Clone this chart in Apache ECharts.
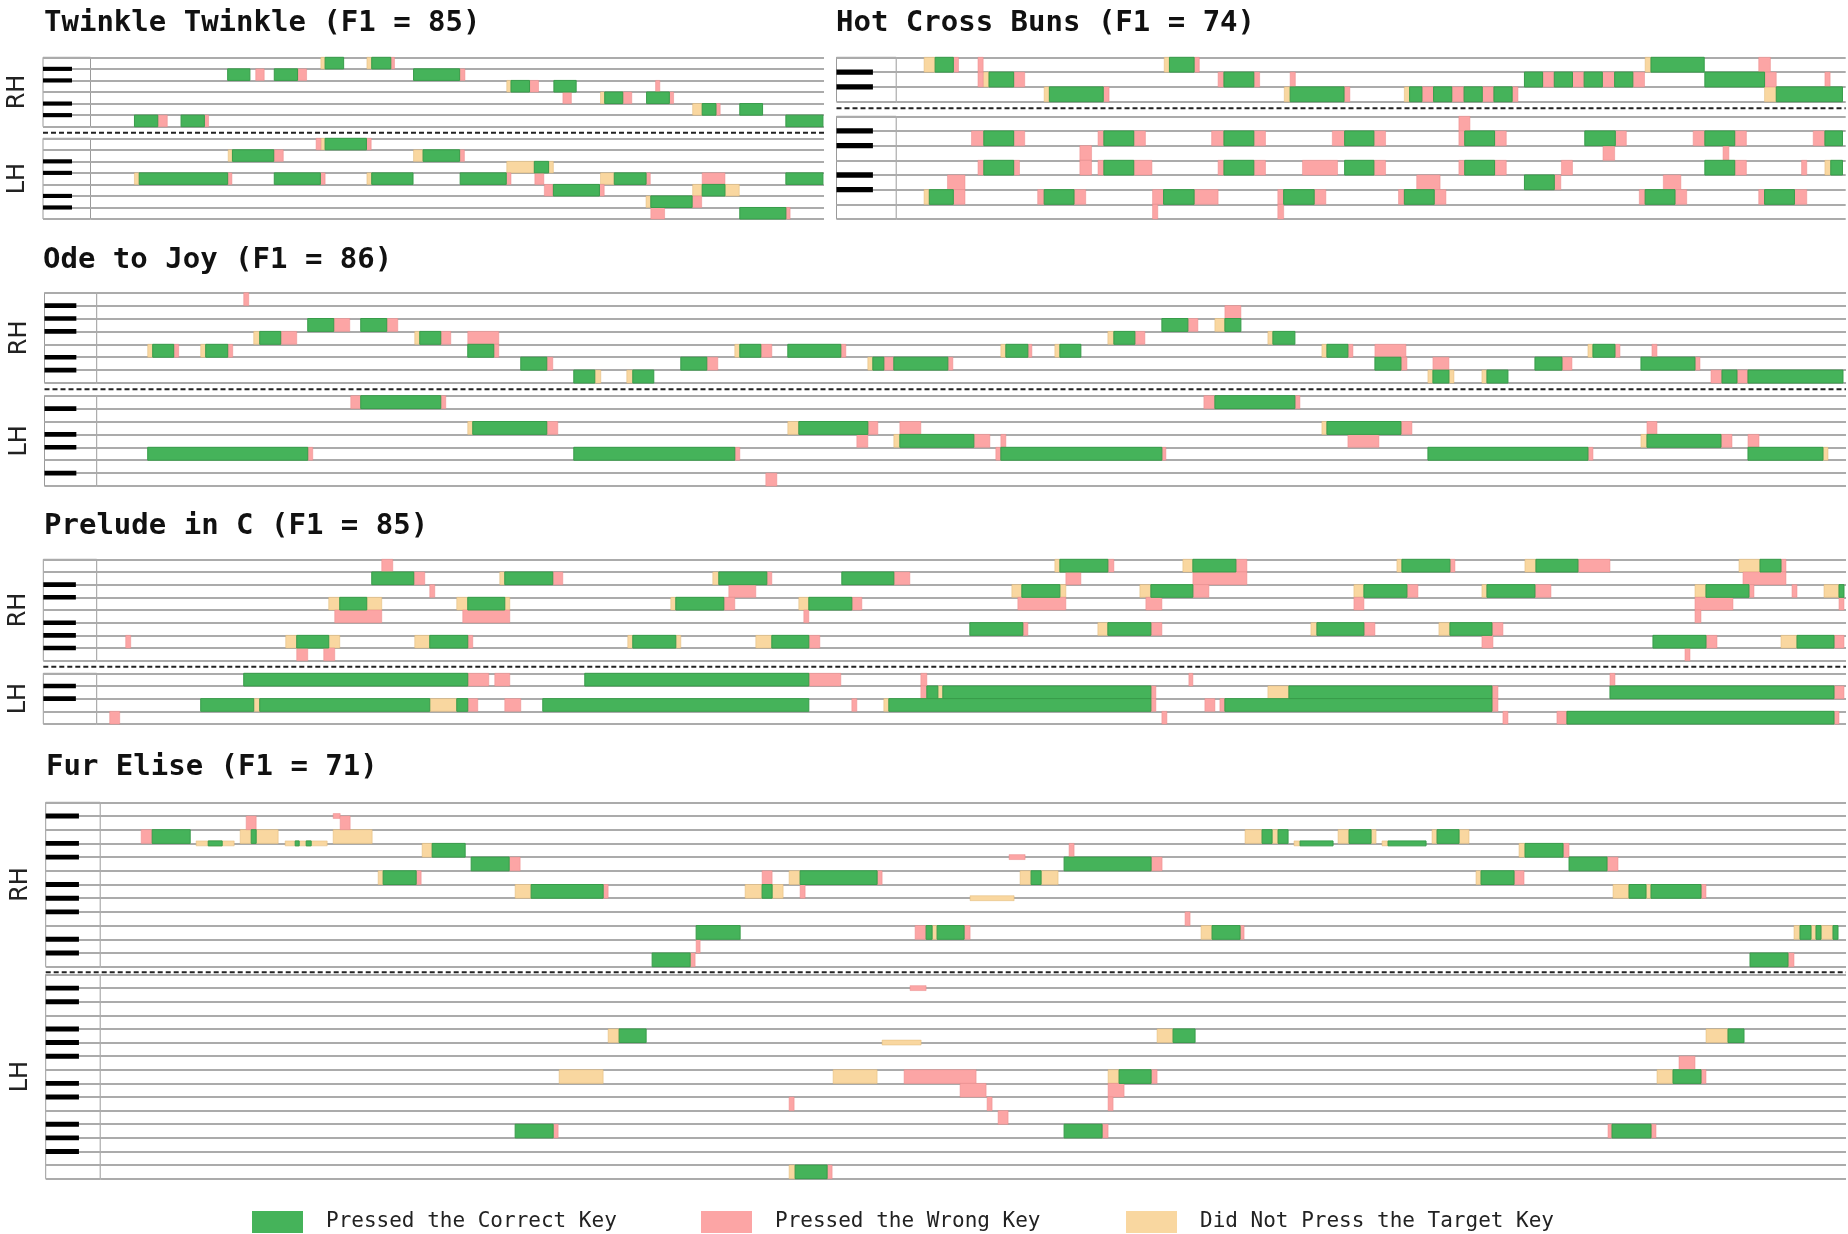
<!DOCTYPE html>
<html><head><meta charset="utf-8">
<script src="https://cdn.jsdelivr.net/npm/echarts@6/dist/echarts.min.js"></script>
<style>html,body{margin:0;padding:0;background:#fff}#c{width:1848px;height:1234px}</style>
</head><body><div id="c"></div>
<script>
// ---------------- DATA ----------------
const songTitles = ['Twinkle Twinkle', 'Hot Cross Buns', 'Ode to Joy', 'Prelude in C', 'Fur Elise'];
const f1Scores = [85, 74, 86, 85, 71];
const durations = [69.25, 73.15, 174.9, 174.9, 174.6];
const rowCountsRH = [6, 3, 7, 8, 12];
const rowCountsLH = [7, 7, 7, 4, 15];
const blackKeysRH = [[1,2,4,5], [1,2], [1,2,4,5,6], [1,2,3,5,6], [1,2,4,5,6,8,9,11]];
const blackKeysLH = [[1,2,4,5], [2,3,5,6], [1,3,4,6], [2,3], [2,3,4,6,7,9,10,11,13,14]];
const statusNames = { C: 'Pressed the Correct Key', W: 'Pressed the Wrong Key', M: 'Did Not Press the Target Key' };

// notes: [pitch position (white row centre x.5 / black key on boundary), status, start, end]
const twinkleRH = [
[5.5,'M',21.75,22.15],[5.5,'C',22.15,23.9],[5.5,'M',26.1,26.55],[5.5,'C',26.55,28.35],[5.5,'W',28.35,28.7],
[4.5,'C',12.95,15.05],[4.5,'W',15.6,16.4],[4.5,'C',17.35,19.55],[4.5,'W',19.55,20.4],[4.5,'C',30.5,34.85],[4.5,'W',34.85,35.35],
[3.5,'M',39.3,39.7],[3.5,'C',39.7,41.45],[3.5,'W',41.45,42.3],[3.5,'C',43.75,45.85],[3.5,'W',53.35,53.75],
[2.5,'W',44.6,45.4],[2.5,'M',48.15,48.55],[2.5,'C',48.55,50.25],[2.5,'W',50.25,51.1],[2.5,'C',52.5,54.65],[2.5,'W',54.65,55.05],
[1.5,'M',56.85,57.75],[1.5,'C',57.75,59.05],[1.5,'W',59.05,59.45],[1.5,'C',61.3,63.45],
[0.5,'C',4.15,6.35],[0.5,'W',6.35,7.25],[0.5,'C',8.55,10.75],[0.5,'W',10.75,11.15],[0.5,'C',65.65,69.15]
];
const twinkleLH = [
[6.5,'W',21.3,21.75],[6.5,'M',21.75,22.15],[6.5,'C',22.15,26.05],[6.5,'W',26.05,26.5],
[5.5,'M',13.0,13.4],[5.5,'C',13.4,17.3],[5.5,'W',17.3,18.2],[5.5,'M',30.5,31.4],[5.5,'C',31.4,34.85],[5.5,'W',34.85,35.3],
[4.5,'M',39.3,41.9],[4.5,'C',41.9,43.25],[4.5,'M',43.25,43.7],
[3.5,'M',4.15,4.6],[3.5,'C',4.6,12.95],[3.5,'W',12.95,13.35],[3.5,'C',17.35,21.7],[3.5,'W',21.7,22.15],[3.5,'M',26.1,26.55],[3.5,'C',26.55,30.45],[3.5,'C',34.9,39.25],[3.5,'W',39.25,39.7],[3.5,'W',41.95,42.8],[3.5,'M',48.15,49.45],[3.5,'C',49.45,52.45],[3.5,'W',52.45,52.85],[3.5,'W',57.75,59.9],[3.5,'C',65.65,69.15],
[2.5,'W',42.85,43.7],[2.5,'C',43.7,48.05],[2.5,'W',48.05,48.5],[2.5,'M',56.85,57.75],[2.5,'C',57.75,59.9],[2.5,'M',59.9,61.25],
[1.5,'M',52.45,52.9],[1.5,'C',52.9,56.8],[1.5,'W',56.8,57.7],
[0.5,'W',52.9,54.2],[0.5,'C',61.3,65.65],[0.5,'W',65.65,66.05]
];
const hotCrossRH = [
[2.5,'M',2.15,3.0],[2.5,'C',3.0,4.4],[2.5,'W',4.4,4.8],[2.5,'W',6.3,6.7],[2.5,'M',20.65,21.05],[2.5,'C',21.05,22.95],[2.5,'W',22.95,23.35],[2.5,'M',57.7,58.15],[2.5,'C',58.15,62.25],[2.5,'W',66.45,67.35],
[1.5,'W',6.3,6.7],[1.5,'M',6.7,7.15],[1.5,'C',7.15,9.05],[1.5,'W',9.05,9.9],[1.5,'W',24.8,25.25],[1.5,'C',25.25,27.55],[1.5,'W',27.55,28.0],[1.5,'W',30.35,30.75],[1.5,'C',48.4,49.8],[1.5,'W',49.8,50.7],[1.5,'C',50.7,52.1],[1.5,'W',52.1,53.0],[1.5,'C',53.0,54.4],[1.5,'W',54.4,55.35],[1.5,'C',55.35,56.75],[1.5,'W',56.75,57.65],[1.5,'C',62.3,66.9],[1.5,'W',66.9,67.8],[1.5,'W',71.55,71.95],
[0.5,'M',11.4,11.8],[0.5,'C',11.8,15.95],[0.5,'W',15.95,16.4],[0.5,'M',29.9,30.35],[0.5,'C',30.35,34.5],[0.5,'W',34.5,34.95],[0.5,'M',39.15,39.55],[0.5,'C',39.55,40.5],[0.5,'W',40.5,41.4],[0.5,'C',41.4,42.8],[0.5,'W',42.8,43.75],[0.5,'C',43.75,45.15],[0.5,'W',45.15,46.05],[0.5,'C',46.05,47.45],[0.5,'W',47.45,47.9],[0.5,'M',66.9,67.8],[0.5,'C',67.8,72.9]
];
const hotCrossLH = [
[6.5,'W',43.35,44.2],
[5.5,'W',5.8,6.75],[5.5,'C',6.75,9.05],[5.5,'W',9.05,9.9],[5.5,'W',15.55,16.0],[5.5,'C',16.0,18.3],[5.5,'W',18.3,19.2],[5.5,'W',24.3,25.25],[5.5,'C',25.25,27.55],[5.5,'W',27.55,28.45],[5.5,'W',33.6,34.55],[5.5,'C',34.55,36.8],[5.5,'W',36.8,37.7],[5.5,'W',43.35,43.8],[5.5,'C',43.8,46.1],[5.5,'W',46.1,47.0],[5.5,'C',53.05,55.4],[5.5,'W',55.4,56.25],[5.5,'W',61.4,62.3],[5.5,'C',62.3,64.6],[5.5,'W',64.6,65.5],[5.5,'W',70.65,71.55],[5.5,'C',71.55,72.9],
[4.5,'W',14.15,15.05],[4.5,'W',54.45,55.35],[4.5,'W',63.7,64.15],
[3.5,'W',6.3,6.75],[3.5,'C',6.75,9.05],[3.5,'W',9.05,9.5],[3.5,'W',14.15,15.05],[3.5,'W',15.55,16.0],[3.5,'C',16.0,18.3],[3.5,'W',18.3,19.7],[3.5,'W',24.8,25.25],[3.5,'C',25.25,27.55],[3.5,'W',27.55,28.45],[3.5,'W',31.3,34.0],[3.5,'C',34.55,36.8],[3.5,'W',36.8,37.7],[3.5,'W',43.35,43.8],[3.5,'C',43.8,46.1],[3.5,'W',46.1,47.0],[3.5,'W',51.25,52.1],[3.5,'C',62.3,64.6],[3.5,'W',64.6,65.5],[3.5,'W',69.75,70.15],[3.5,'M',71.55,72.0],[3.5,'C',72.0,72.9],
[2.5,'W',3.95,5.3],[2.5,'W',40.1,41.9],[2.5,'C',48.4,50.7],[2.5,'W',50.7,51.2],[2.5,'W',59.1,60.45],
[1.5,'M',2.15,2.55],[1.5,'C',2.55,4.4],[1.5,'W',4.4,5.3],[1.5,'W',10.9,11.4],[1.5,'C',11.4,13.7],[1.5,'W',13.7,14.6],[1.5,'W',19.75,20.6],[1.5,'C',20.6,22.95],[1.5,'W',22.95,24.8],[1.5,'W',29.4,29.85],[1.5,'C',29.85,32.2],[1.5,'W',32.2,33.1],[1.5,'W',38.7,39.15],[1.5,'C',39.15,41.45],[1.5,'W',41.45,42.35],[1.5,'W',57.25,57.7],[1.5,'C',57.7,60.0],[1.5,'W',60.0,60.9],[1.5,'W',66.45,66.9],[1.5,'C',66.9,69.2],[1.5,'W',69.2,70.15],
[0.5,'W',19.75,20.15],[0.5,'W',29.4,29.85]
];
const odeRH = [
[6.5,'W',14.7,15.2],
[5.5,'W',112.8,114.4],
[4.5,'C',21.1,23.7],[4.5,'W',23.7,25.3],[4.5,'C',26.4,29.0],[4.5,'W',29.0,30.1],[4.5,'C',106.5,109.1],[4.5,'W',109.1,110.1],[4.5,'M',111.8,112.8],[4.5,'C',112.8,114.4],
[3.5,'M',15.7,16.3],[3.5,'C',16.3,18.4],[3.5,'W',18.4,20.0],[3.5,'M',31.8,32.3],[3.5,'C',32.3,34.4],[3.5,'W',34.4,35.4],[3.5,'W',37.1,40.2],[3.5,'M',101.1,101.7],[3.5,'C',101.7,103.8],[3.5,'W',103.8,104.8],[3.5,'M',117.1,117.6],[3.5,'C',117.6,119.8],
[2.5,'M',5.1,5.6],[2.5,'C',5.6,7.7],[2.5,'W',7.7,8.2],[2.5,'M',10.4,10.9],[2.5,'C',10.9,13.1],[2.5,'W',13.1,13.6],[2.5,'C',37.1,39.7],[2.5,'W',39.7,40.2],[2.5,'M',63.8,64.3],[2.5,'C',64.3,66.4],[2.5,'W',66.4,67.5],[2.5,'C',69.1,74.4],[2.5,'W',74.4,74.9],[2.5,'M',90.4,90.9],[2.5,'C',90.9,93.1],[2.5,'W',93.1,93.5],[2.5,'M',95.8,96.3],[2.5,'C',96.3,98.4],[2.5,'M',122.5,123.0],[2.5,'C',123.0,125.1],[2.5,'W',125.1,125.6],[2.5,'W',127.8,130.9],[2.5,'M',149.1,149.6],[2.5,'C',149.6,151.8],[2.5,'W',151.8,152.3],[2.5,'W',155.5,156.0],
[1.5,'C',42.4,45.0],[1.5,'W',45.0,45.6],[1.5,'C',58.4,61.0],[1.5,'W',61.0,62.1],[1.5,'M',77.1,77.6],[1.5,'C',77.6,78.7],[1.5,'W',78.7,79.7],[1.5,'C',79.7,85.1],[1.5,'W',85.1,85.6],[1.5,'C',127.8,130.4],[1.5,'W',130.4,131.0],[1.5,'W',133.6,135.2],[1.5,'C',143.8,146.5],[1.5,'W',146.5,147.5],[1.5,'C',154.4,159.8],[1.5,'W',159.8,160.3],
[0.5,'C',47.7,49.8],[0.5,'M',49.8,50.4],[0.5,'M',53.0,53.6],[0.5,'C',53.6,55.7],[0.5,'M',133.1,133.6],[0.5,'C',133.6,135.2],[0.5,'M',135.2,135.7],[0.5,'M',138.5,139.0],[0.5,'C',139.0,141.1],[0.5,'W',161.4,162.5],[0.5,'C',162.5,164.0],[0.5,'W',164.0,165.1],[0.5,'C',165.1,174.6]
];
const odeLH = [
[6.5,'W',25.4,26.4],[6.5,'C',26.4,34.4],[6.5,'W',34.4,34.9],[6.5,'W',110.7,111.8],[6.5,'C',111.8,119.8],[6.5,'W',119.8,120.3],
[4.5,'M',37.1,37.6],[4.5,'C',37.6,45.0],[4.5,'W',45.0,46.1],[4.5,'M',69.1,70.2],[4.5,'C',70.2,77.1],[4.5,'W',77.1,78.1],[4.5,'W',80.3,82.4],[4.5,'M',122.5,123.0],[4.5,'C',123.0,130.4],[4.5,'W',130.4,131.5],[4.5,'W',155.0,156.0],
[3.5,'W',76.0,77.1],[3.5,'M',79.7,80.3],[3.5,'C',80.3,87.7],[3.5,'W',87.7,89.3],[3.5,'W',90.4,90.9],[3.5,'W',125.1,128.2],[3.5,'M',154.4,155.0],[3.5,'C',155.0,162.4],[3.5,'W',162.4,163.5],[3.5,'W',165.1,166.2],
[2.5,'C',5.1,21.1],[2.5,'W',21.1,21.6],[2.5,'C',47.7,63.8],[2.5,'W',63.8,64.3],[2.5,'W',89.9,90.4],[2.5,'C',90.4,106.5],[2.5,'W',106.5,106.9],[2.5,'C',133.1,149.1],[2.5,'W',149.1,149.6],[2.5,'C',165.1,172.6],[2.5,'M',172.6,173.1],
[0.5,'W',66.9,68.0]
];
const preludeRH = [
[7.5,'W',28.5,29.6],[7.5,'M',95.8,96.3],[7.5,'C',96.3,101.1],[7.5,'W',101.1,101.7],[7.5,'M',108.6,109.6],[7.5,'C',109.6,113.9],[7.5,'W',113.9,115.0],[7.5,'M',130.0,130.5],[7.5,'C',130.5,135.3],[7.5,'W',135.3,135.8],[7.5,'M',142.8,143.9],[7.5,'C',143.9,148.1],[7.5,'W',148.1,151.3],[7.5,'M',164.2,166.3],[7.5,'C',166.3,168.4],[7.5,'W',168.4,168.9],
[6.5,'C',27.5,31.7],[6.5,'W',31.7,32.8],[6.5,'M',40.3,40.8],[6.5,'C',40.8,45.6],[6.5,'W',45.6,46.6],[6.5,'M',61.6,62.2],[6.5,'C',62.2,67.0],[6.5,'W',67.0,67.5],[6.5,'C',74.5,79.7],[6.5,'W',79.7,81.3],[6.5,'W',96.9,98.4],[6.5,'W',109.6,115.0],[6.5,'W',164.6,168.9],
[5.5,'W',33.3,33.8],[5.5,'W',63.2,65.9],[5.5,'M',91.5,92.5],[5.5,'C',92.5,96.3],[5.5,'M',96.3,96.9],[5.5,'M',104.3,105.4],[5.5,'C',105.4,109.6],[5.5,'W',109.6,111.2],[5.5,'M',125.7,126.7],[5.5,'C',126.7,131.0],[5.5,'W',131.0,132.1],[5.5,'M',138.5,139.0],[5.5,'C',139.0,143.8],[5.5,'W',143.8,145.4],[5.5,'M',159.8,160.9],[5.5,'C',160.9,165.2],[5.5,'W',165.2,165.7],[5.5,'W',169.5,170.0],[5.5,'M',172.7,174.2],[5.5,'C',174.2,174.7],
[4.5,'M',23.2,24.3],[4.5,'C',24.3,27.0],[4.5,'M',27.0,28.5],[4.5,'M',36.0,37.1],[4.5,'C',37.1,40.8],[4.5,'M',40.8,41.3],[4.5,'M',57.4,57.9],[4.5,'C',57.9,62.7],[4.5,'W',62.7,63.8],[4.5,'M',70.2,71.2],[4.5,'C',71.2,75.5],[4.5,'W',75.5,76.5],[4.5,'W',92.1,96.9],[4.5,'W',104.9,106.5],[4.5,'W',125.7,126.7],[4.5,'W',159.8,163.6],[4.5,'W',174.2,174.7],
[3.5,'W',23.8,28.5],[3.5,'W',36.6,41.3],[3.5,'W',70.7,71.2],[3.5,'W',159.8,160.4],
[2.5,'C',87.3,92.6],[2.5,'W',92.6,93.1],[2.5,'M',100.1,101.1],[2.5,'C',101.1,105.4],[2.5,'W',105.4,106.5],[2.5,'M',121.4,122.0],[2.5,'C',122.0,126.7],[2.5,'W',126.7,127.8],[2.5,'M',134.2,135.3],[2.5,'C',135.3,139.5],[2.5,'W',139.5,140.6],
[1.5,'W',2.9,3.4],[1.5,'M',18.9,20.0],[1.5,'C',20.0,23.2],[1.5,'M',23.2,24.3],[1.5,'M',31.8,33.3],[1.5,'C',33.3,37.1],[1.5,'W',37.1,37.6],[1.5,'M',53.1,53.6],[1.5,'C',53.6,57.9],[1.5,'M',57.9,58.4],[1.5,'M',65.9,67.5],[1.5,'C',67.5,71.2],[1.5,'W',71.2,72.3],[1.5,'W',138.5,139.6],[1.5,'C',155.6,160.9],[1.5,'W',160.9,162.0],[1.5,'M',168.4,170.0],[1.5,'C',170.0,173.7],[1.5,'W',173.7,174.7],
[0.5,'W',20.0,21.1],[0.5,'W',22.7,23.8],[0.5,'W',158.8,159.3]
];
const preludeLH = [
[3.5,'C',14.7,37.1],[3.5,'W',37.1,39.2],[3.5,'W',39.8,41.3],[3.5,'C',48.8,71.2],[3.5,'W',71.2,74.4],[3.5,'W',82.4,83.0],[3.5,'W',109.2,109.6],[3.5,'W',151.3,151.8],
[2.5,'W',82.4,83.0],[2.5,'C',83.0,84.1],[2.5,'M',84.1,84.6],[2.5,'C',84.6,105.4],[2.5,'W',105.4,105.9],[2.5,'M',117.1,119.2],[2.5,'C',119.2,139.5],[2.5,'W',139.5,140.1],[2.5,'C',151.3,173.7],[2.5,'W',173.7,174.7],
[1.5,'C',10.4,15.7],[1.5,'M',15.7,16.3],[1.5,'C',16.3,33.3],[1.5,'M',33.3,36.0],[1.5,'C',36.0,37.1],[1.5,'W',37.1,38.1],[1.5,'W',40.8,42.4],[1.5,'C',44.6,71.2],[1.5,'W',75.5,76.0],[1.5,'M',78.7,79.2],[1.5,'C',79.2,105.4],[1.5,'W',105.4,105.9],[1.5,'W',110.8,111.8],[1.5,'W',112.3,112.8],[1.5,'C',112.8,139.5],[1.5,'W',139.5,140.1],
[0.5,'W',1.3,2.3],[0.5,'W',106.5,107.0],[0.5,'W',140.6,141.1],[0.5,'W',146.0,147.0],[0.5,'C',147.0,173.7],[0.5,'W',173.7,174.2]
];
const furEliseRH = [
[11,'W',23.3,24.0],
[10.5,'W',14.6,15.6],[10.5,'W',24.0,25.0],
[9.5,'W',4.1,5.2],[9.5,'C',5.2,9.0],[9.5,'M',14.0,17.8],[9.5,'C',15.1,15.6],[9.5,'M',23.3,27.2],[9.5,'M',114.5,116.2],[9.5,'C',116.2,117.2],[9.5,'M',117.2,117.8],[9.5,'C',117.8,118.8],[9.5,'M',123.8,124.9],[9.5,'C',124.9,127.1],[9.5,'M',127.1,127.6],[9.5,'M',133.2,133.7],[9.5,'C',133.7,135.9],[9.5,'M',135.9,136.9],
[9,'M',9.6,13.4],[9,'C',10.8,12.2],[9,'M',18.5,22.7],[9,'C',19.5,19.9],[9,'C',20.6,21.1],[9,'M',119.4,120.0],[9,'C',120.0,123.3],[9,'M',128.2,128.8],[9,'C',128.8,132.6],
[8.5,'M',32.2,33.2],[8.5,'C',33.2,36.5],[8.5,'W',96.9,97.4],[8.5,'M',141.9,142.5],[8.5,'C',142.5,146.3],[8.5,'W',146.3,146.9],
[8,'W',90.9,92.5],
[7.5,'C',37.1,40.9],[7.5,'W',40.9,42.0],[7.5,'C',96.4,105.1],[7.5,'W',105.1,106.2],[7.5,'C',146.9,150.7],[7.5,'W',150.7,151.8],
[6.5,'M',27.8,28.3],[6.5,'C',28.3,31.6],[6.5,'W',31.6,32.1],[6.5,'W',66.2,67.2],[6.5,'M',68.9,70.0],[6.5,'C',70.0,77.7],[6.5,'W',77.7,78.2],[6.5,'M',92.0,93.1],[6.5,'C',93.1,94.1],[6.5,'M',94.1,95.8],[6.5,'M',137.6,138.1],[6.5,'C',138.1,141.4],[6.5,'W',141.4,142.4],
[5.5,'M',41.5,43.1],[5.5,'C',43.1,50.3],[5.5,'W',50.3,50.8],[5.5,'M',64.5,66.2],[5.5,'C',66.2,67.2],[5.5,'M',67.2,68.3],[5.5,'W',70.0,70.5],[5.5,'M',151.3,152.9],[5.5,'C',152.9,154.6],[5.5,'M',154.6,155.1],[5.5,'C',155.1,160.1],[5.5,'W',160.1,160.6],
[5,'M',87.0,91.4],
[3.5,'W',108.5,109.0],
[2.5,'C',59.6,64.0],[2.5,'W',81.5,82.6],[2.5,'C',82.6,83.2],[2.5,'M',83.2,83.7],[2.5,'C',83.7,86.4],[2.5,'W',86.4,87.0],[2.5,'M',110.1,111.2],[2.5,'C',111.2,114.0],[2.5,'W',114.0,114.4],[2.5,'M',169.4,170.0],[2.5,'C',170.0,171.1],[2.5,'M',171.1,171.6],[2.5,'C',171.6,172.1],[2.5,'M',172.1,173.3],[2.5,'C',173.3,173.8],
[1.5,'W',59.6,60.0],
[0.5,'C',55.2,59.0],[0.5,'W',59.0,59.5],[0.5,'C',165.0,168.8],[0.5,'W',168.8,169.4]
];
const furEliseLH = [
[14,'W',81.0,82.6],
[10.5,'M',50.8,51.9],[10.5,'C',51.9,54.6],[10.5,'M',105.7,107.3],[10.5,'C',107.3,109.5],[10.5,'M',160.6,162.8],[10.5,'C',162.8,164.4],
[10,'M',78.2,82.1],
[8.5,'W',157.9,159.5],
[7.5,'M',45.9,50.3],[7.5,'M',73.3,77.7],[7.5,'W',80.4,87.6],[7.5,'M',100.8,101.9],[7.5,'C',101.9,105.1],[7.5,'W',105.1,105.7],[7.5,'M',155.7,157.3],[7.5,'C',157.3,160.1],[7.5,'W',160.1,160.6],
[6.5,'W',86.0,88.6],[6.5,'W',100.8,102.4],
[5.5,'W',68.9,69.4],[5.5,'W',88.7,89.2],[5.5,'W',100.8,101.3],
[4.5,'W',89.8,90.8],
[3.5,'C',41.5,45.3],[3.5,'W',45.3,45.8],[3.5,'C',96.4,100.2],[3.5,'W',100.2,100.8],[3.5,'W',150.8,151.2],[3.5,'C',151.2,155.1],[3.5,'W',155.1,155.6],
[0.5,'M',68.9,69.5],[0.5,'C',69.5,72.7],[0.5,'W',72.7,73.2]
];
const notesRH = [twinkleRH, hotCrossRH, odeRH, preludeRH, furEliseRH];
const notesLH = [twinkleLH, hotCrossLH, odeLH, preludeLH, furEliseLH];

// ---------------- LAYOUT ----------------
const layout = [
  {kbLeft:43,   plotLeft:90.5,  plotRight:824,    rh:[57.3,126.7],  lh:[138.3,219],    dash:132.7, titleX:44,  titleY:23.5, labels:true},
  {kbLeft:836.5,plotLeft:896.2, plotRight:1845.7, rh:[57.3,101.7],  lh:[116.3,219],    dash:108.3, titleX:836, titleY:23.5, labels:false},
  {kbLeft:44.5, plotLeft:96.7,  plotRight:1846,   rh:[292.7,383],   lh:[395.7,486],    dash:389.3, titleX:43,  titleY:260, labels:true},
  {kbLeft:43.3, plotLeft:96.7,  plotRight:1846,   rh:[559.3,660.7], lh:[673.3,724],    dash:666.7, titleX:44,  titleY:526, labels:true},
  {kbLeft:45.7, plotLeft:100.2, plotRight:1846,   rh:[802.3,966.7], lh:[974.5,1178.7], dash:972.3, titleX:46,  titleY:767.5, labels:true}
];
const GRID_COLOR = '#ababab';
const styles = {
  C: {color:'#45b35a', borderColor:'#389c4a', borderWidth:1},
  W: {color:'#fca5a5', borderColor:'rgba(235,140,140,0.5)', borderWidth:1},
  M: {color:'#f9d7a0', borderColor:'rgba(225,185,120,0.5)', borderWidth:1}
};

function renderNote(params, api) {
  const t0 = api.value(0), t1 = api.value(1), pos = api.value(2);
  const half = Number.isInteger(pos) ? 0.18 : 0.5;
  const a = api.coord([t0, pos + half]);
  const b = api.coord([t1, pos - half]);
  const cs = params.coordSys;
  const shape = echarts.graphic.clipRectByRect(
    {x:a[0], y:a[1], width:b[0]-a[0], height:b[1]-a[1]},
    {x:cs.x, y:cs.y, width:cs.width, height:cs.height});
  return shape && {type:'rect', shape, style: api.style()};
}
function renderKey(params, api) {
  const k = api.value(1);
  const a = api.coord([0, k + 0.18]);
  const b = api.coord([0.61, k - 0.18]);
  return {type:'rect', shape:{x:a[0], y:a[1], width:b[0]-a[0], height:b[1]-a[1]}, style:{fill:'#000'}};
}

const grids = [], xAxes = [], yAxes = [], series = [], graphics = [];
function yAxisFor(idx, rows, name) {
  return {gridIndex:idx, type:'value', min:0, max:rows, interval:1,
    axisLine:{show:false}, axisTick:{show:false}, axisLabel:{show:false},
    splitLine:{show:true, lineStyle:{color:GRID_COLOR, width:2}},
    name: name || '', nameLocation:'middle', nameRotate:90, nameGap:13,
    nameTextStyle:{fontFamily:'DejaVu Sans', fontSize:24, color:'#222'}};
}
function addHand(p, box, rows, black, notes, T, label) {
  const top = box[0], h = box[1] - box[0];
  const kb = grids.length;
  grids.push({left:p.kbLeft, top, width:p.plotLeft - p.kbLeft, height:h, show:true, borderColor:'#9a9a9a', borderWidth:1, backgroundColor:'rgba(0,0,0,0)'});
  xAxes.push({gridIndex:kb, type:'value', min:0, max:1, show:false});
  yAxes.push(yAxisFor(kb, rows, label));
  series.push({type:'custom', name:'keys', xAxisIndex:kb, yAxisIndex:kb, silent:true,
    data: black.map(b => [0, b]), encode:{x:0, y:1}, renderItem: renderKey});
  const pi = grids.length;
  grids.push({left:p.plotLeft, top, width:p.plotRight - p.plotLeft, height:h});
  xAxes.push({gridIndex:pi, type:'value', min:0, max:T, show:false});
  yAxes.push(yAxisFor(pi, rows, ''));
  ['M','W','C'].forEach(s => {
    series.push({type:'custom', name:statusNames[s], xAxisIndex:pi, yAxisIndex:pi, silent:true,
      itemStyle: styles[s], encode:{x:[0,1], y:2}, renderItem: renderNote,
      data: notes.filter(n => n[1] === s).map(n => [n[2], n[3], n[0]])});
  });
}
layout.forEach((p, i) => {
  addHand(p, p.rh, rowCountsRH[i], blackKeysRH[i], notesRH[i], durations[i], p.labels ? 'RH' : '');
  addHand(p, p.lh, rowCountsLH[i], blackKeysLH[i], notesLH[i], durations[i], p.labels ? 'LH' : '');
  graphics.push({type:'line', shape:{x1:p.kbLeft, y1:p.dash, x2:p.plotRight, y2:p.dash},
    style:{stroke:'#222', lineWidth:2, lineDash:[5,3]}, silent:true});
});

const titles = layout.map((p, i) => ({
  text: songTitles[i] + ' (F1 = ' + f1Scores[i] + ')',
  left: p.titleX, top: p.titleY - 17, padding: 0,
  textStyle: {fontFamily:'DejaVu Sans Mono', fontWeight:'bold', fontSize:29, color:'#111', lineHeight:34}
}));

const legendLefts = [252, 701, 1126];
const legends = ['C','W','M'].map((s, i) => ({
  left: legendLefts[i], top: 1211, padding: 0, itemWidth: 51, itemHeight: 22, selectedMode: false,
  data: [{name: statusNames[s], icon: 'rect', itemStyle: {color: styles[s].color, borderWidth: 0}}],
  textStyle: {fontFamily:'DejaVu Sans Mono', fontSize:21, color:'#222', padding:[0,0,0,18]}
}));

const chart = echarts.init(document.getElementById('c'), null, {renderer:'canvas'});
chart.setOption({
  animation: false,
  backgroundColor: '#fff',
  title: titles,
  legend: legends,
  grid: grids, xAxis: xAxes, yAxis: yAxes, series,
  graphic: graphics
});
</script></body></html>
